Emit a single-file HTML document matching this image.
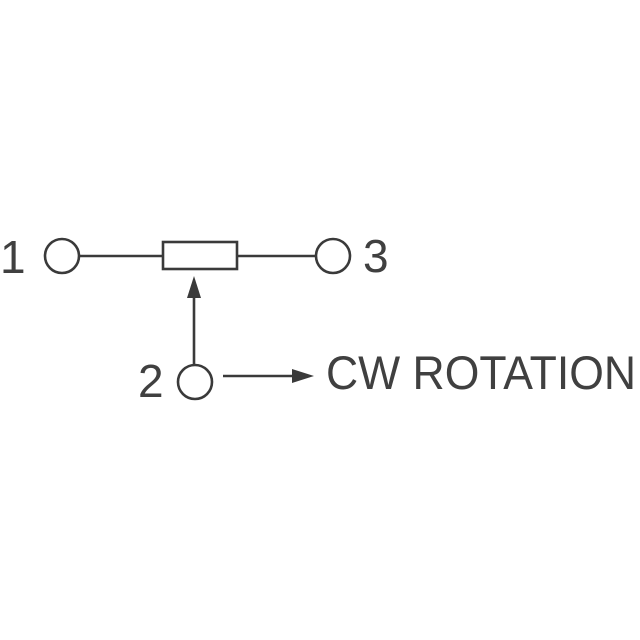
<!DOCTYPE html>
<html><head><style>body{margin:0;background:#fff}svg{display:block}</style></head><body>
<svg width="640" height="640" viewBox="0 0 640 640" xmlns="http://www.w3.org/2000/svg">
<rect width="640" height="640" fill="#fff"/>
<g stroke="#3a3a3a" stroke-width="2.6" fill="none">
<circle cx="62" cy="256" r="17"/>
<circle cx="333" cy="256" r="17"/>
<circle cx="195" cy="382" r="17"/>
<line x1="79" y1="256" x2="163" y2="256"/>
<line x1="237" y1="256" x2="316" y2="256"/>
<rect x="163" y="242" width="74" height="27"/>
<line x1="194" y1="365" x2="194" y2="292"/>
<line x1="223" y1="376" x2="296" y2="376"/>
</g>
<g fill="#3a3a3a">
<polygon points="194,276 187,298 201,298"/>
<polygon points="314,376 292,369 292,383"/>
</g>
<g font-family="Liberation Sans, sans-serif" fill="#404040" font-size="46">
<text x="0" y="273">1</text>
<text x="363" y="272">3</text>
<text x="138" y="397">2</text>
<text x="326" y="389" font-size="47" textLength="310" lengthAdjust="spacingAndGlyphs">CW ROTATION</text>
</g>
</svg>
</body></html>
